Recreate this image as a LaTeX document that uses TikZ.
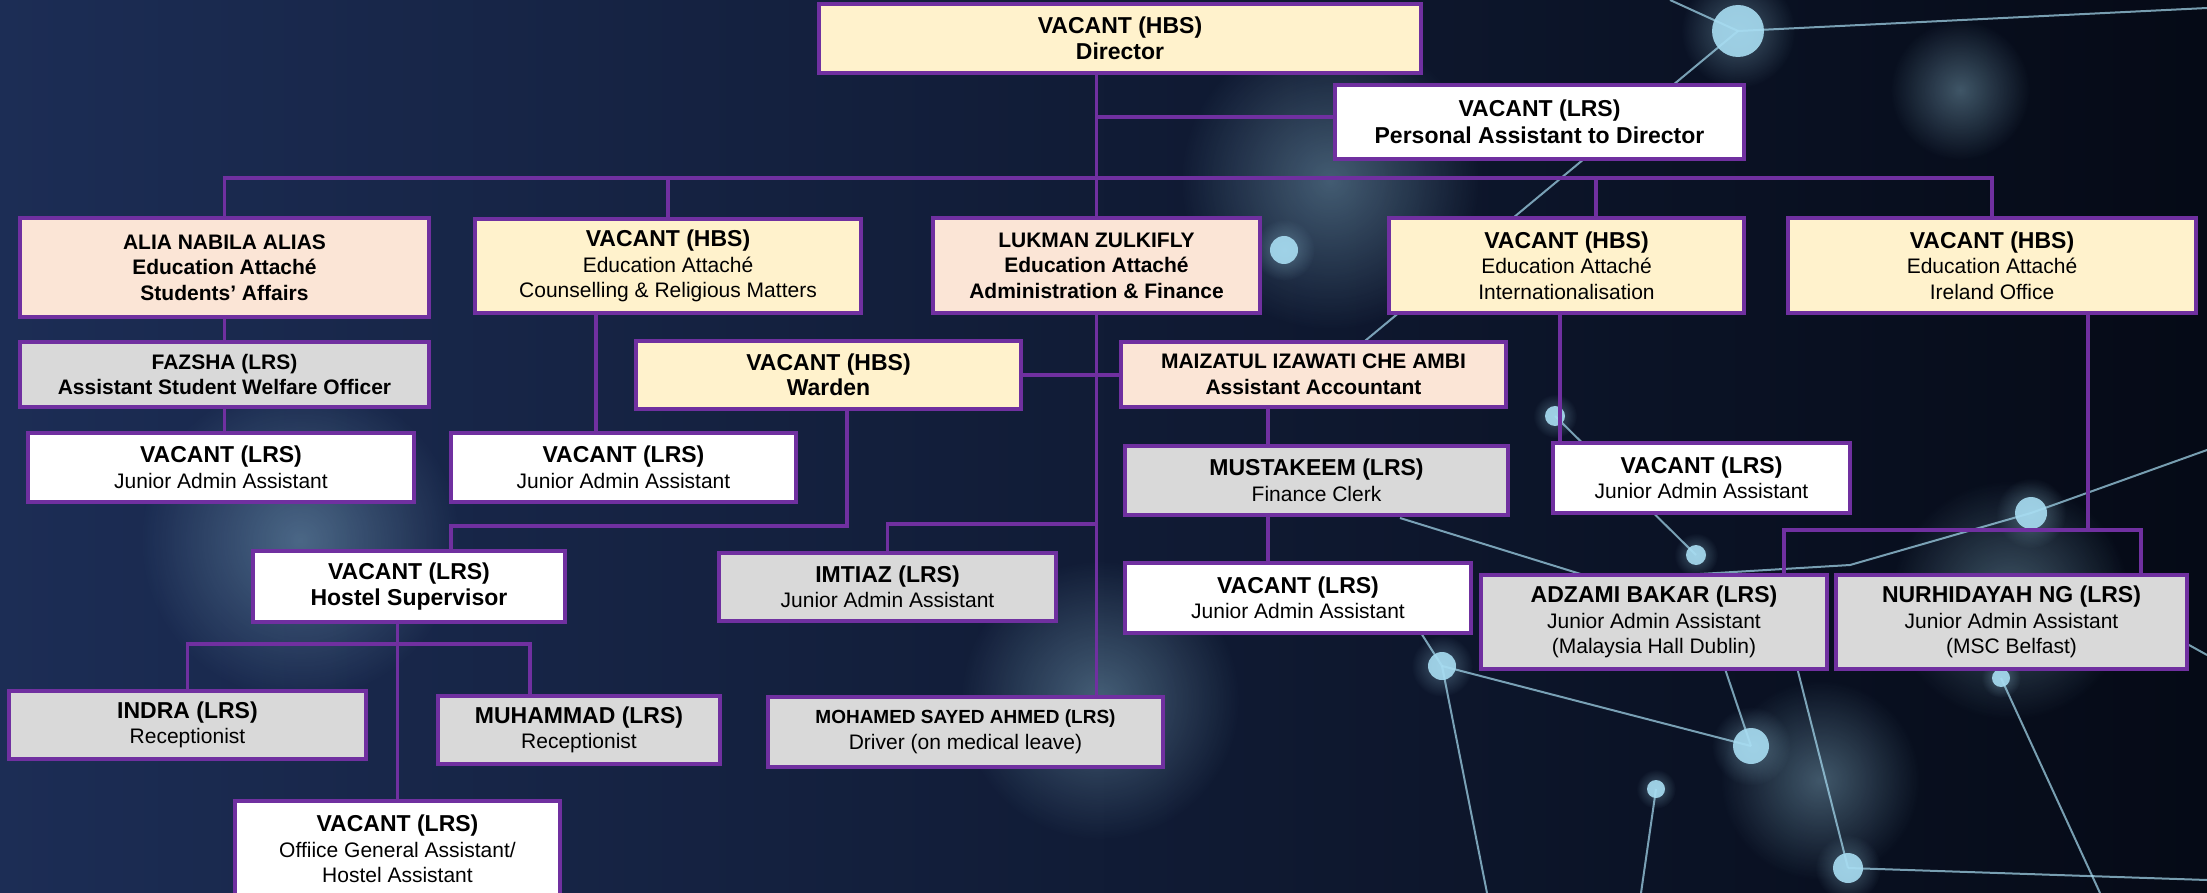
\documentclass[tikz,border=0pt]{standalone}
\usepackage{fontspec}
\setmainfont{Liberation Sans}
\usetikzlibrary{fadings}
\definecolor{orgpurple}{HTML}{7030A0}
\definecolor{cardcream}{HTML}{FFF2CC}
\definecolor{cardpeach}{HTML}{FBE5D6}
\definecolor{cardgrey}{HTML}{D9D9D9}
\definecolor{bgleft}{HTML}{1C2D55}
\definecolor{bgright}{HTML}{050A16}
\definecolor{netblue}{HTML}{A8DDF2}
\tikzfading[name=glowfade, inner color=transparent!0, outer color=transparent!100]
\newcommand{\post}{\fontsize{23}{27}\selectfont\bfseries}
\newcommand{\namebf}{\fontsize{21}{25.5}\selectfont\bfseries}
\newcommand{\role}{\normalfont\fontsize{21}{25.5}\selectfont}
\tikzset{
  card/.style={draw=orgpurple, line width=4pt, align=center, inner sep=0pt, text=black, font=\role},
  cream/.style={card, fill=cardcream},
  peach/.style={card, fill=cardpeach},
  grey/.style={card, fill=cardgrey},
  blank/.style={card, fill=white},
  wire/.style={draw=orgpurple, line width=3.5pt},
  netline/.style={draw=netblue, line width=2pt, opacity=0.7},
  netdot/.style={fill=netblue, opacity=0.9},
  netglow/.style={fill=netblue, opacity=0.35, path fading=glowfade}
}
\begin{document}
\begin{tikzpicture}[x=1pt,y=-1pt]
  \useasboundingbox (0,0) rectangle (2207,893);
  \clip (0,0) rectangle (2207,893);
  \fill[left color=bgleft, right color=bgright] (0,0) rectangle (2207,893);

  % network in the background
  \coordinate (n1) at (1738,31);
  \coordinate (n2) at (1284,250);
  \coordinate (n3) at (1555,416);
  \coordinate (n4) at (1696,555);
  \coordinate (n5) at (1442,666);
  \coordinate (n6) at (1751,746);
  \coordinate (n7) at (1656,789);
  \coordinate (n8) at (1848,868);
  \coordinate (n9) at (2031,513);
  \coordinate (n10) at (2001,678);

  \fill[netglow] (1330,180) circle (150);
  \fill[netglow] (1960,90) circle (70);
  \fill[netglow] (2010,600) circle (120);
  \fill[netglow] (1820,780) circle (100);
  \fill[netglow] (300,540) circle (160);
  \fill[netglow] (1100,700) circle (140);

  \draw[netline] (n1) -- (1670,0);
  \draw[netline] (n1) -- (2207,8);
  \draw[netline] (n1) -- (1330,370);
  \draw[netline] (n3) -- (n4);
  \draw[netline] (n5) -- (n6);
  \draw[netline] (n5) -- (1487,893);
  \draw[netline] (n5) -- (1400,600);
  \draw[netline] (n6) -- (1722,660);
  \draw[netline] (n7) -- (1641,893);
  \draw[netline] (n8) -- (2207,880);
  \draw[netline] (n8) -- (1790,640);
  \draw[netline] (n10) -- (2100,893);
  \draw[netline] (1400,518) -- (1600,580) -- (1850,565) -- (n9) -- (2207,450);
  \draw[netline] (2180,640) -- (2207,655);

  \foreach \p/\r in {n1/26, n2/14, n3/10, n4/10, n5/14, n6/18, n7/9, n8/15, n9/16, n10/9}{
    \fill[netglow] (\p) circle (2.2*\r);
    \fill[netdot] (\p) circle (\r);
  }

  % boxes
  \node[cream, minimum width=602pt, minimum height=69pt] (dir) at (1120,38.5)
    {\post VACANT (HBS)\\[1pt]\post Director};
  \node[blank, minimum width=409pt, minimum height=74pt] (pa) at (1539.5,122)
    {\post VACANT (LRS)\\[1pt]\post Personal Assistant to Director};

  \node[peach, minimum width=409pt, minimum height=99pt] (alia) at (224.5,267.5)
    {\namebf ALIA NABILA ALIAS\\\namebf Education Attach\'e\\\namebf Students' Affairs};
  \node[cream, minimum width=386pt, minimum height=94pt] (couns) at (668,266)
    {\post VACANT (HBS)\\Education Attach\'e\\Counselling \& Religious Matters};
  \node[peach, minimum width=327pt, minimum height=95pt] (lukman) at (1096.5,265.5)
    {\namebf LUKMAN ZULKIFLY\\\namebf Education Attach\'e\\\namebf Administration \& Finance};
  \node[cream, minimum width=355pt, minimum height=95pt] (intl) at (1566.5,265.5)
    {\post VACANT (HBS)\\Education Attach\'e\\Internationalisation};
  \node[cream, minimum width=408pt, minimum height=95pt] (irl) at (1992,265.5)
    {\post VACANT (HBS)\\Education Attach\'e\\Ireland Office};

  \node[grey, minimum width=409pt, minimum height=65pt] (fazsha) at (224.5,374.5)
    {\namebf FAZSHA (LRS)\\\namebf Assistant Student Welfare Officer};
  \node[cream, minimum width=385pt, minimum height=68pt] (warden) at (828.5,375)
    {\post VACANT (HBS)\\\post Warden};
  \node[peach, minimum width=385pt, minimum height=65pt] (maiz) at (1313.5,374.5)
    {\namebf MAIZATUL IZAWATI CHE AMBI\\\namebf Assistant Accountant};

  \node[blank, minimum width=386pt, minimum height=69pt] (jaaA) at (221,467.5)
    {\post VACANT (LRS)\\Junior Admin Assistant};
  \node[blank, minimum width=345pt, minimum height=69pt] (jaaB) at (623.5,467.5)
    {\post VACANT (LRS)\\Junior Admin Assistant};
  \node[blank, minimum width=297pt, minimum height=70pt] (jaaC) at (1701.5,478)
    {\post VACANT (LRS)\\Junior Admin Assistant};
  \node[grey, minimum width=383pt, minimum height=69pt] (must) at (1316.5,480.5)
    {\post MUSTAKEEM (LRS)\\Finance Clerk};

  \node[blank, minimum width=312pt, minimum height=71pt] (hostel) at (409,586.5)
    {\post VACANT (LRS)\\\post Hostel Supervisor};
  \node[grey, minimum width=337pt, minimum height=68pt] (imtiaz) at (887.5,587)
    {\post IMTIAZ (LRS)\\Junior Admin Assistant};
  \node[blank, minimum width=346pt, minimum height=70pt] (jaaD) at (1298,598)
    {\post VACANT (LRS)\\Junior Admin Assistant};
  \node[grey, minimum width=346pt, minimum height=94pt] (adzami) at (1654,622)
    {\post ADZAMI BAKAR (LRS)\\Junior Admin Assistant\\(Malaysia Hall Dublin)};
  \node[grey, minimum width=351pt, minimum height=94pt] (nurh) at (2011.5,622)
    {\post NURHIDAYAH NG (LRS)\\Junior Admin Assistant\\(MSC Belfast)};

  \node[grey, minimum width=357pt, minimum height=68pt] (indra) at (187.5,725)
    {\post INDRA (LRS)\\Receptionist};
  \node[grey, minimum width=282pt, minimum height=68pt] (muham) at (579,730)
    {\post MUHAMMAD (LRS)\\Receptionist};
  \node[grey, minimum width=395pt, minimum height=70pt] (driver) at (965.5,732)
    {\fontsize{19}{26}\selectfont\bfseries MOHAMED SAYED AHMED (LRS)\\Driver (on medical leave)};
  \node[blank, minimum width=325pt, minimum height=96pt] (ogass) at (397.5,849)
    {\post VACANT (LRS)\\Offiice General Assistant/\\Hostel Assistant};

  % junction points
  \coordinate (bus) at (0,178);
  \coordinate (paj) at (1097,117);
  \coordinate (idrop) at (1596,178);
  \coordinate (cdrop) at (596,0);
  \coordinate (wdrop) at (847,526);
  \coordinate (hjoin) at (451,526);
  \coordinate (ibus) at (0,524);
  \coordinate (hbus) at (0,644);
  \coordinate (mdrop) at (530,644);
  \coordinate (fdrop) at (1268,0);
  \coordinate (xdrop) at (1560,0);
  \coordinate (rdrop) at (2088,530);
  \coordinate (rbus) at (0,530);
  \coordinate (adrop) at (1784,0);
  \coordinate (ndrop) at (2141,0);

  % connectors
  \draw[wire] (dir.south -| lukman.north) -- (lukman.north);
  \draw[wire] (paj) -- (paj -| pa.west);
  \draw[wire] (alia.north) -- (alia.north |- bus) -- (irl.north |- bus) -- (irl.north);
  \draw[wire] (couns.north |- bus) -- (couns.north);
  \draw[wire] (idrop) -- (idrop |- intl.north);
  \draw[wire] (alia.south) -- (fazsha.north);
  \draw[wire] (fazsha.south) -- (fazsha.south |- jaaA.north);
  \draw[wire] (cdrop |- couns.south) -- (cdrop |- jaaB.north);
  \draw[wire] (warden.east) -- (warden.east -| maiz.west);
  \draw[wire] (lukman.south) -- (lukman.south |- driver.north);
  \draw[wire] (wdrop |- warden.south) -- (wdrop) -- (hjoin) -- (hjoin |- hostel.north);
  \draw[wire] (lukman.south |- ibus) -- (imtiaz.north |- ibus) -- (imtiaz.north);
  \draw[wire] (ogass.north |- hostel.south) -- (ogass.north);
  \draw[wire] (indra.north) -- (indra.north |- hbus) -- (mdrop) -- (mdrop |- muham.north);
  \draw[wire] (fdrop |- maiz.south) -- (fdrop |- must.north);
  \draw[wire] (fdrop |- must.south) -- (fdrop |- jaaD.north);
  \draw[wire] (xdrop |- intl.south) -- (xdrop |- jaaC.north);
  \draw[wire] (rdrop |- irl.south) -- (rdrop);
  \draw[wire] (adrop |- adzami.north) -- (adrop |- rbus) -- (ndrop |- rbus) -- (ndrop |- nurh.north);
\end{tikzpicture}
\end{document}
